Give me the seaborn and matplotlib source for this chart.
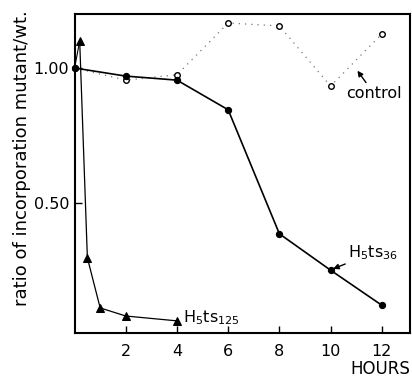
import matplotlib
matplotlib.use("Agg")
import matplotlib.pyplot as plt
import seaborn as sns
import pandas as pd

# Time course (hours) and incorporation ratios mutant / wild type
hours_36 = [0, 2, 4, 6, 8, 10, 12]
ratio_36 = [1.00, 0.97, 0.955, 0.845, 0.385, 0.25, 0.12]

hours_ctrl = [0, 2, 4, 6, 8, 10, 12]
ratio_ctrl = [1.00, 0.955, 0.975, 1.167, 1.156, 0.933, 1.126]

hours_125 = [0, 0.2, 0.5, 1, 2, 4]
ratio_125 = [1.00, 1.10, 0.296, 0.11, 0.08, 0.062]

x_ticks = [2, 4, 6, 8, 10, 12]
y_ticks = [0.50, 1.00]
y_tick_labels = ["0.50", "1.00"]

sns.set_style("ticks")
plt.rcParams["font.family"] = ["DejaVu Sans"]
plt.rcParams["text.color"] = "black"
plt.rcParams["axes.labelcolor"] = "black"
plt.rcParams["xtick.color"] = "black"
plt.rcParams["ytick.color"] = "black"
plt.rcParams["mathtext.fontset"] = "custom"
plt.rcParams["mathtext.rm"] = "DejaVu Sans"
plt.rcParams["mathtext.it"] = "DejaVu Sans"

fig = plt.figure(figsize=(4.12, 3.81), dpi=100)
ax = fig.add_axes([0.181, 0.126, 0.814, 0.837])

df36 = pd.DataFrame({"hours": hours_36, "ratio": ratio_36})
dfc = pd.DataFrame({"hours": hours_ctrl, "ratio": ratio_ctrl})
df125 = pd.DataFrame({"hours": hours_125, "ratio": ratio_125})

sns.lineplot(data=dfc, x="hours", y="ratio", ax=ax, estimator=None, sort=False,
             color="#777777", lw=0.9, linestyle=(0, (1, 4)),
             marker="o", markersize=4, markerfacecolor="white",
             markeredgecolor="black", markeredgewidth=1.0, clip_on=False)
sns.lineplot(data=df36, x="hours", y="ratio", ax=ax, estimator=None, sort=False,
             color="black", lw=1.2, marker="o", markersize=4.5,
             markerfacecolor="black", markeredgecolor="black", clip_on=False)
sns.lineplot(data=df125.iloc[1:], x="hours", y="ratio", ax=ax, estimator=None,
             sort=False, color="black", lw=0.9, marker="^", markersize=5.5,
             markerfacecolor="black", markeredgecolor="black", clip_on=False)
sns.lineplot(data=df125.iloc[:2], x="hours", y="ratio", ax=ax, estimator=None,
             sort=False, color="black", lw=0.8, clip_on=False)

ax.set_xlim(0, 13.1)
ax.set_ylim(0.017, 1.2)
ax.set_xticks(x_ticks)
ax.set_xticklabels([str(t) for t in x_ticks])
ax.set_yticks(y_ticks)
ax.set_yticklabels(y_tick_labels)
ax.tick_params(direction="in", length=5, width=1.0, labelsize=11.5,
               color="black", labelcolor="black")
ax.tick_params(axis="x", pad=8)
ax.tick_params(axis="y", pad=4)
for s in ax.spines.values():
    s.set_linewidth(1.5)
    s.set_color("black")
    s.set_visible(True)

ax.set_xlabel("")
ax.set_ylabel("ratio of incorporation mutant/wt.", fontsize=13, color="black")
ax.yaxis.set_label_coords(-0.13, 0.547)

fig.text(0.995, 0.008, "HOURS", ha="right", va="bottom", fontsize=12)

# Series annotations
ax.annotate("control", xy=(11.05, 0.99), xytext=(10.6, 0.906),
            fontsize=11.5, ha="left", va="center",
            arrowprops=dict(arrowstyle="-|>", color="black", lw=1.0,
                            shrinkA=0, shrinkB=0, mutation_scale=8))
ax.annotate(r"H$_5$ts$_{36}$", xy=(10.1, 0.255), xytext=(10.7, 0.315),
            fontsize=11.5, ha="left", va="center",
            arrowprops=dict(arrowstyle="-|>", color="black", lw=1.0,
                            shrinkA=0, shrinkB=0, mutation_scale=8))
ax.text(4.25, 0.075, r"H$_5$ts$_{125}$", fontsize=11.5, ha="left", va="center")

fig.savefig("out.png", dpi=100)
